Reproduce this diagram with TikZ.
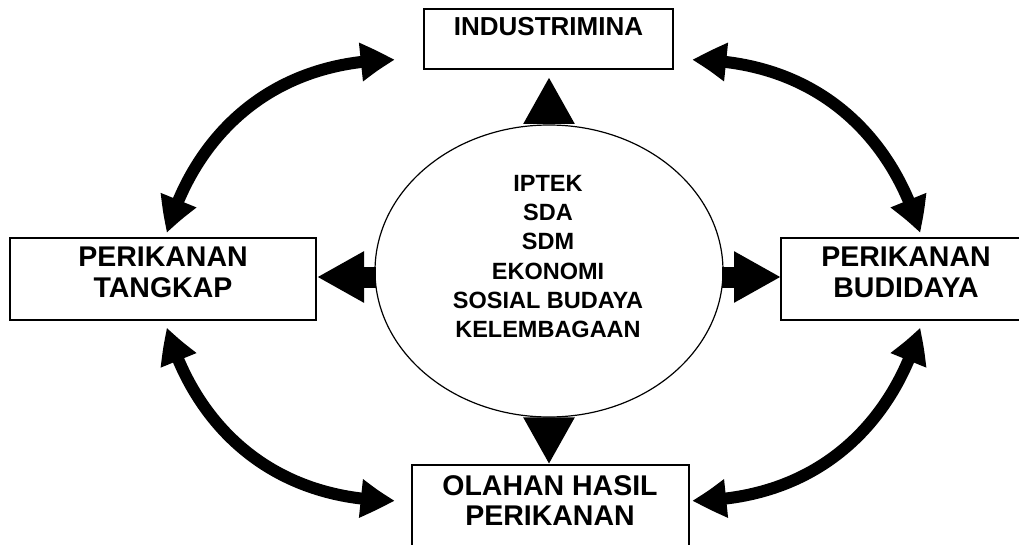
\documentclass[tikz,border=0pt]{standalone}
\usepackage{fontspec}
\setmainfont{Liberation Sans}
\usetikzlibrary{arrows.meta,bending,shapes.geometric}
\begin{document}
\begin{tikzpicture}[x=1pt,y=-1pt,
  box/.style={draw,line width=1.3pt,inner sep=0pt},
  lbl/.style={anchor=north,inner sep=0pt,align=center,font=\fontsize{28.5}{30.5}\selectfont\bfseries},
  toplbl/.style={anchor=north,inner sep=0pt,align=center,font=\fontsize{26}{30}\selectfont\bfseries},
  elllbl/.style={anchor=north,inner sep=0pt,align=center,font=\fontsize{23.5}{29.3}\selectfont\bfseries},
  bigarc/.style={line width=12pt,{Triangle[length=35pt,width=36pt,bend]}-{Triangle[length=35pt,width=36pt,bend]}},
  stub/.style={line width=21pt,-{Triangle[length=47pt,width=48pt]}},
]
\useasboundingbox (0,0) rectangle (1019,545);
\clip (0,0) rectangle (1019,545);

% boxes
\node[box,minimum width=249pt,minimum height=60pt] (top) at (548.5,39) {};
\node[box,minimum width=306pt,minimum height=82pt] (left) at (163,279) {};
\node[box,minimum width=250pt,minimum height=82pt] (right) at (906,279) {};
\node[box,minimum width=277pt,minimum height=86pt] (bot) at (550.5,508) {};
\node[draw,line width=1.2pt,ellipse,inner sep=0pt,minimum width=348pt,minimum height=292pt] (ell) at (549,271) {};

% labels
\node[toplbl] (topT) at (548.5,17) {INDUSTRIMINA};
\node[lbl] (leftT) at (163,247) {PERIKANAN\\TANGKAP};
\node[lbl] (rightT) at (906,247) {PERIKANAN\\BUDIDAYA};
\node[lbl] (botT) at (550,475) {OLAHAN HASIL\\PERIKANAN};
\node[elllbl] (ellT) at (548,175) {IPTEK\\SDA\\SDM\\EKONOMI\\SOSIAL BUDAYA\\KELEMBAGAAN};

% short arrows from the ellipse
\coordinate (upTip) at (549,77);
\coordinate (lS) at (376,277);
\coordinate (lTip) at (317,277);
\coordinate (rS) at (722,277);
\coordinate (rTip) at (781,277);
\draw[stub] (ell.north) -- (upTip);
\draw[stub] (ell.south) -- (ell.south |- bot.north);
\draw[stub] (lS) -- (lTip);
\draw[stub] (rS) -- (rTip);

% curved double arrows
\coordinate (tlA) at (167,233);
\coordinate (tlB) at (395,60);
\coordinate (trA) at (920,233);
\coordinate (trB) at (692,60);
\coordinate (blA) at (167,327.5);
\coordinate (blB) at (395,500.5);
\coordinate (brA) at (920,327.5);
\coordinate (brB) at (692,500.5);
\draw[bigarc] (tlA) .. controls (194,138) and (269,60) .. (tlB);
\draw[bigarc] (trA) .. controls (893,138) and (818,60) .. (trB);
\draw[bigarc] (blA) .. controls (194,422.5) and (269,500.5) .. (blB);
\draw[bigarc] (brA) .. controls (893,422.5) and (818,500.5) .. (brB);
\end{tikzpicture}
\end{document}
